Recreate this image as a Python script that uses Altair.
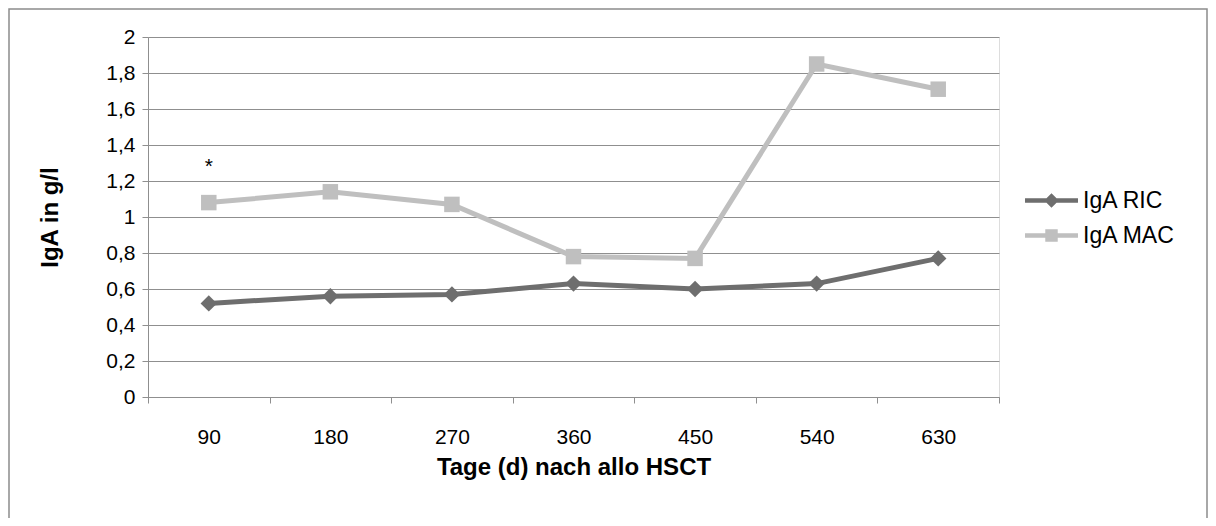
import altair as alt
import pandas as pd

# ---- data ----
days = ["90", "180", "270", "360", "450", "540", "630"]
iga_ric = [0.52, 0.56, 0.57, 0.63, 0.60, 0.63, 0.77]
iga_mac = [1.08, 1.14, 1.07, 0.78, 0.77, 1.85, 1.71]
series_names = ["IgA RIC", "IgA MAC"]
series_colors = ["#6e6e6e", "#bfbfbf"]
y_ticks = [0, 0.2, 0.4, 0.6, 0.8, 1.0, 1.2, 1.4, 1.6, 1.8, 2.0]
annot_day = ["90"]
annot_value = [1.28]
annot_text = ["*"]

rows = []
for name, vals in zip(series_names, [iga_ric, iga_mac]):
    for d, v in zip(days, vals):
        rows.append({"Tag": d, "Wert": v, "Serie": name})
df = pd.DataFrame(rows)
annot_df = pd.DataFrame({"Tag": annot_day, "Wert": annot_value, "Text": annot_text})
legend_df = pd.DataFrame({"Serie": series_names})
frame_df = pd.DataFrame({"k": [0]})

W, H = 851, 360
FONT = "Liberation Sans"
FS = 21
TFS = 24
LFS = 23
GRID = "#8f8f8f"

x_enc = alt.X(
    "Tag:N",
    sort=days,
    scale=alt.Scale(type="band", domain=days, paddingInner=0, paddingOuter=0),
    axis=alt.Axis(
        title="Tage (d) nach allo HSCT",
        tickBand="extent",
        labelAngle=0,
        labelFont=FONT,
        labelFontSize=FS,
        labelColor="#000000",
        labelBaseline="middle",
        labelPadding=34,
        tickSize=6,
        tickColor=GRID,
        domainColor=GRID,
        grid=False,
        titleFont=FONT,
        titleFontSize=TFS,
        titleFontWeight="bold",
        titleColor="#000000",
        titleX=W / 2,
        titleY=70,
        titleBaseline="middle",
        titleAlign="center",
    ),
)

y_enc = alt.Y(
    "Wert:Q",
    scale=alt.Scale(domain=[0, 2], nice=False, zero=True),
    axis=alt.Axis(
        title="IgA in g/l",
        values=y_ticks,
        labelExpr="replace(format(datum.value, '~g'), '.', ',')",
        labelFont=FONT,
        labelFontSize=FS,
        labelColor="#000000",
        labelPadding=7,
        tickSize=6,
        tickColor=GRID,
        domainColor=GRID,
        grid=True,
        gridColor=GRID,
        gridWidth=1,
        titleFont=FONT,
        titleFontSize=TFS,
        titleFontWeight="bold",
        titleColor="#000000",
        titleAngle=270,
        titleX=-98,
        titleY=H / 2,
        titleAlign="center",
        titleBaseline="middle",
    ),
)

frame = alt.Chart(frame_df).mark_rect(
    fillOpacity=0, stroke="#8c8c8c", strokeWidth=1.5, clip=False
).encode(
    x=alt.value(-139), x2=alt.value(1059), y=alt.value(-28), y2=alt.value(H + 200)
)


def series_layers(name, color, shape, size):
    base = alt.Chart(df).transform_filter(alt.datum.Serie == name)
    line = base.mark_line(strokeWidth=5, color=color).encode(x=x_enc, y=y_enc)
    pts = base.mark_point(
        shape=shape, filled=True, size=size, opacity=1, color=color
    ).encode(x=x_enc, y=y_enc)
    return line, pts


ric_line, ric_pts = series_layers("IgA RIC", series_colors[0], "diamond", 270)
mac_line, mac_pts = series_layers("IgA MAC", series_colors[1], "square", 240)

ric_symbol = "M-2,-0.17H2V0.17H-2Z M0,-0.55L0.55,0L0,0.55L-0.55,0Z"
mac_symbol = "M-2,-0.17H2V0.17H-2Z M-0.47,-0.47H0.47V0.47H-0.47Z"

leg = dict(
    title=None,
    orient="none",
    legendX=890,
    legendY=150,
    symbolSize=702,
    symbolStrokeWidth=0,
    labelFont=FONT,
    labelFontSize=LFS,
    labelColor="#000000",
    labelOffset=18,
    rowPadding=9,
)

legend_layer = alt.Chart(legend_df).mark_point(filled=True, opacity=1).encode(
    x=alt.value(-5000),
    y=alt.value(-5000),
    color=alt.Color(
        "Serie:N",
        scale=alt.Scale(domain=series_names, range=series_colors),
        legend=alt.Legend(**leg),
    ),
    shape=alt.Shape(
        "Serie:N",
        scale=alt.Scale(domain=series_names, range=[ric_symbol, mac_symbol]),
        legend=alt.Legend(**leg),
    ),
)

annot = alt.Chart(annot_df).mark_text(
    font=FONT, fontSize=FS, color="#000000", baseline="middle"
).encode(x=x_enc, y=y_enc, text="Text:N")

chart = alt.layer(
    frame, ric_line, mac_line, ric_pts, mac_pts, annot, legend_layer
).properties(
    width=W,
    height=H,
    autosize=alt.AutoSizeParams(type="none"),
    padding={"left": 140, "top": 29, "right": 209, "bottom": 121},
).configure_view(stroke=None).configure(background="#ffffff")

chart.save("out.html", embed_options={"renderer": "svg", "actions": False})
